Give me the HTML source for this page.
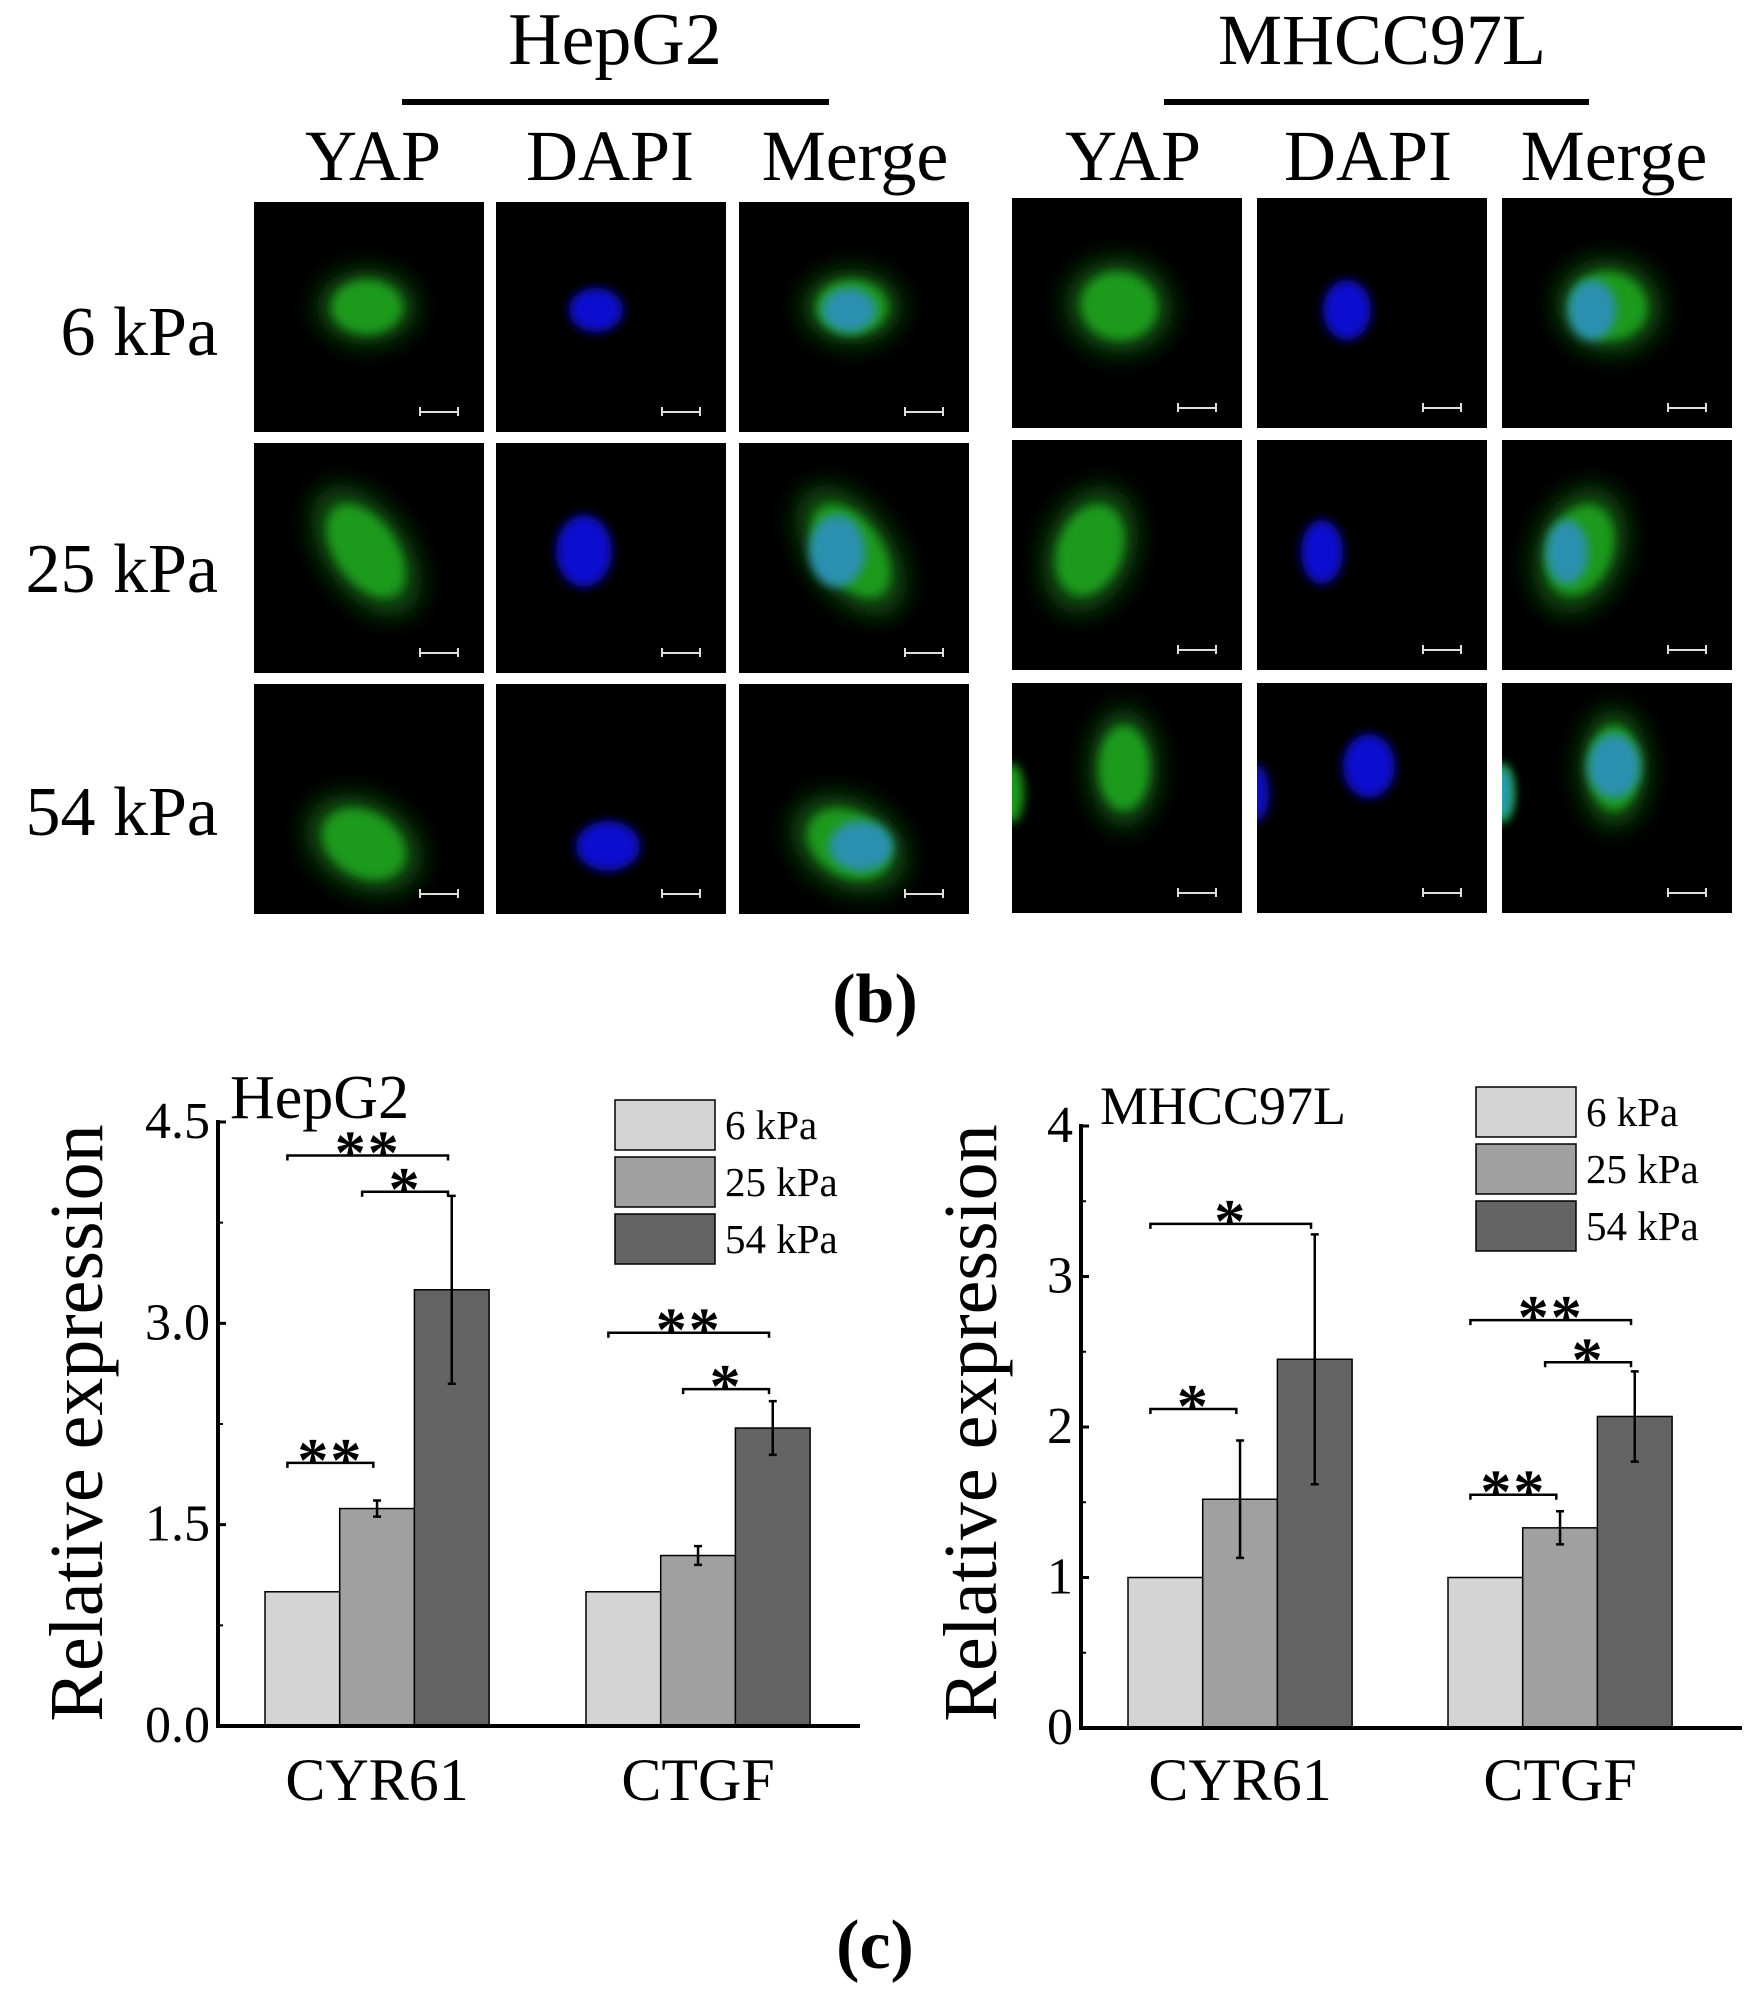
<!DOCTYPE html>
<html><head><meta charset="utf-8"><style>
html,body{margin:0;padding:0;background:#fff;}
svg{display:block;font-family:"Liberation Serif",serif;}
</style></head><body>
<svg id="fig" width="1761" height="1998" viewBox="0 0 1761 1998" xmlns="http://www.w3.org/2000/svg">
<defs>
<filter id="blur" x="-50%" y="-50%" width="200%" height="200%"><feGaussianBlur stdDeviation="5"/></filter>
<filter id="blur2" x="-50%" y="-50%" width="200%" height="200%"><feGaussianBlur stdDeviation="12"/></filter>
</defs>
<g id="micro"></g>
<g id="chart1"></g>
<g id="chart2"></g>
</svg>
<script>
// ---- chart data ----
const categories = ["CYR61", "CTGF"];
const seriesNames = ["6 kPa", "25 kPa", "54 kPa"];
const hepg2Values = [[1.0, 1.62, 3.25], [1.0, 1.27, 2.22]];
const hepg2Errors = [[0, 0.06, 0.70], [0, 0.07, 0.20]];
const hepg2Ticks = [0, 1.5, 3.0, 4.5];
const hepg2TickLabels = ["0.0", "1.5", "3.0", "4.5"];
const mhccValues = [[1.0, 1.52, 2.45], [1.0, 1.33, 2.07]];
const mhccErrors = [[0, 0.39, 0.83], [0, 0.11, 0.30]];
const mhccTicks = [0, 1, 2, 3, 4];
const mhccTickLabels = ["0", "1", "2", "3", "4"];
// significance brackets: [category, fromBar, toBar, yValue, label]
const hepg2Sig = [[0, 0, 2, 4.25, "**"], [0, 1, 2, 3.98, "*"], [0, 0, 1, 1.96, "**"], [1, 0, 2, 2.93, "**"], [1, 1, 2, 2.51, "*"]];
const mhccSig = [[0, 0, 2, 3.35, "*"], [0, 0, 1, 2.12, "*"], [1, 0, 2, 2.71, "**"], [1, 1, 2, 2.43, "*"], [1, 0, 1, 1.55, "**"]];

const NS = "http://www.w3.org/2000/svg";
const colors = ["#d4d4d4", "#a0a0a0", "#646464"];
function mk(tag, attrs, parent, text) {
  const e = document.createElementNS(NS, tag);
  for (const k in attrs) e.setAttribute(k, attrs[k]);
  if (text !== undefined) e.textContent = text;
  parent.appendChild(e);
  return e;
}

// ---- microscopy ----
const micro = document.getElementById('micro');
function txt(x, y, s, size, anchor, name) {
  const t = mk('text', {x: x, y: y, 'font-size': size, 'text-anchor': anchor}, micro, s);
  
  
  return t;
}
txt(615, 64, "HepG2", 74, "middle", "hepg2-title");
txt(1382, 64, "MHCC97L", 72, "middle", "mhcc97l-title");
let l1 = mk('rect', {x: 402, y: 99, width: 427, height: 6, fill: '#000'}, micro);


let l2 = mk('rect', {x: 1164, y: 99, width: 425, height: 6, fill: '#000'}, micro);


const heads = [[373, "YAP"], [610, "DAPI"], [855, "Merge"], [1133, "YAP"], [1368, "DAPI"], [1614, "Merge"]];
heads.forEach(h => txt(h[0], 180, h[1], 72, "middle", "column-header-" + h[1].toLowerCase()));
[["6 kPa", 355], ["25 kPa", 592], ["54 kPa", 835]].forEach(r => txt(218, r[1], r[0], 70, "end", "row-label-" + r[0].split(" ")[0] + "kpa"));
txt(875, 1022, "(b)", 70, "middle", "panel-label-b").setAttribute('font-weight', 'bold');

const colX = [[254, 496, 739], [1012, 1257, 1502]];
const rowY = [[202, 443, 684], [198, 440, 683]];
const cells = [
  [
    {c: [113, 105, 42, 32, 0], n: [110, 108, 27, 22]},
    {c: [112, 108, 62, 36, 55], n: [98, 108, 28, 36]},
    {c: [110, 160, 52, 38, 30], n: [122, 162, 32, 25]}
  ],
  [
    {c: [107, 108, 45, 40, 10], n: [90, 112, 24, 30]},
    {c: [78, 110, 38, 55, 20], n: [65, 112, 21, 32]},
    {c: [112, 85, 30, 50, 0], n: [112, 83, 26, 32], edge: true}
  ]
];
for (let g = 0; g < 2; g++) {
  for (let r = 0; r < 3; r++) {
    const d = cells[g][r];
    for (let c = 0; c < 3; c++) {
      const x0 = colX[g][c], y0 = rowY[g][r];
      const pg = mk('g', {}, micro);
      
      
      mk('rect', {x: x0, y: y0, width: 230, height: 230, fill: '#000'}, pg);
      const cp = mk('clipPath', {id: 'cp' + g + r + c}, pg);
      mk('rect', {x: x0, y: y0, width: 230, height: 230}, cp);
      const inner = mk('g', {'clip-path': 'url(#cp' + g + r + c + ')'}, pg);
      const cc = d.c, nn = d.n;
      if (c === 0 || c === 2) {
        mk('ellipse', {cx: x0 + cc[0], cy: y0 + cc[1], rx: cc[2] * 1.2, ry: cc[3] * 1.2, fill: '#0a4a0a', filter: 'url(#blur2)', transform: `rotate(${cc[4]} ${x0 + cc[0]} ${y0 + cc[1]})`}, inner);
        mk('ellipse', {cx: x0 + cc[0], cy: y0 + cc[1], rx: cc[2] * 0.85, ry: cc[3] * 0.85, fill: '#1c9a1c', filter: 'url(#blur)', transform: `rotate(${cc[4]} ${x0 + cc[0]} ${y0 + cc[1]})`}, inner);
        if (d.edge) mk('ellipse', {cx: x0, cy: y0 + 110, rx: 12, ry: 30, fill: '#1a9a1a', filter: 'url(#blur)'}, inner);
      }
      if (c === 1) {
        mk('ellipse', {cx: x0 + nn[0] - (g === 0 ? 10 : 0), cy: y0 + nn[1], rx: nn[2], ry: nn[3], fill: '#1010d0', filter: 'url(#blur)'}, inner);
        if (d.edge) mk('ellipse', {cx: x0, cy: y0 + 110, rx: 12, ry: 28, fill: '#1010c8', filter: 'url(#blur)'}, inner);
      }
      if (c === 2) {
        mk('ellipse', {cx: x0 + nn[0], cy: y0 + nn[1], rx: nn[2], ry: nn[3], fill: '#2a90b0', filter: 'url(#blur)'}, inner);
        if (d.edge) mk('ellipse', {cx: x0, cy: y0 + 110, rx: 10, ry: 26, fill: '#2a9ab8', filter: 'url(#blur)'}, inner);
      }
      mk('rect', {x: x0 + 165, y: y0 + 209, width: 40, height: 2, fill: '#ddd'}, inner);
      mk('rect', {x: x0 + 165, y: y0 + 205, width: 2, height: 9, fill: '#ddd'}, inner);
      mk('rect', {x: x0 + 203, y: y0 + 205, width: 2, height: 9, fill: '#ddd'}, inner);
    }
  }
}

// ---- bar charts ----
function drawChart(gid, opt) {
  const root = document.getElementById(gid);
  const yScale = v => opt.y0 - (v - 0) / opt.vmax * (opt.y0 - opt.yTop);
  const barX = (ci, si) => opt.catStart[ci] + si * opt.barW;
  const ya = mk('line', {x1: opt.ax, y1: opt.y0 + 2, x2: opt.ax, y2: opt.yTop - 2, stroke: '#000', 'stroke-width': 4}, root);
  
  
  opt.ticks.forEach((t, i) => {
    const y = yScale(t);
    mk('line', {x1: opt.ax, y1: y, x2: opt.ax + 8, y2: y, stroke: '#000', 'stroke-width': 3}, root);
    const tl = mk('text', {x: opt.ax - 8, y: y + 16, 'font-size': 52, 'text-anchor': 'end'}, root, opt.tickLabels[i]);
    
    
    if (i < opt.ticks.length - 1) {
      const ym = yScale((t + opt.ticks[i + 1]) / 2);
      mk('line', {x1: opt.ax, y1: ym, x2: opt.ax + 5, y2: ym, stroke: '#000', 'stroke-width': 2}, root);
    }
  });
  categories.forEach((cat, ci) => {
    opt.values[ci].forEach((v, si) => {
      const x = barX(ci, si);
      const b = mk('rect', {x: x, y: yScale(v), width: opt.barW, height: yScale(0) - yScale(v), fill: colors[si], stroke: '#000', 'stroke-width': 1.5}, root);
      
      
      const e = opt.errors[ci][si];
      if (e > 0) {
        const cx = x + opt.barW / 2;
        const eb = mk('path', {d: `M${cx} ${yScale(v + e)}V${yScale(v - e)}M${cx - 4} ${yScale(v + e)}H${cx + 4}M${cx - 4} ${yScale(v - e)}H${cx + 4}`, stroke: '#000', 'stroke-width': 2.5, fill: 'none'}, root);
        
        
      }
    });
    const xl = mk('text', {x: opt.catStart[ci] + opt.barW * 1.5, y: 1800, 'font-size': 60, 'text-anchor': 'middle'}, root, cat);
    
    
  });
  const xa = mk('line', {x1: opt.ax - 2, y1: opt.y0, x2: opt.axEnd, y2: opt.y0, stroke: '#000', 'stroke-width': 4}, root);
  
  
  opt.sig.forEach(s => {
    const x1 = barX(s[0], s[1]) + opt.barW * 0.3, x2 = barX(s[0], s[2]) + opt.barW * 0.45;
    const y = yScale(s[3]);
    const br = mk('path', {d: `M${x1} ${y + 5}V${y}H${x2}V${y + 5}`, stroke: '#000', 'stroke-width': 2.5, fill: 'none'}, root);
    
    
    const st = mk('text', {x: (x1 + x2) / 2, y: y + 18, 'font-size': 62, 'font-weight': 'bold', 'text-anchor': 'middle', 'letter-spacing': 2}, root, s[4]);
    
    
  });
  seriesNames.forEach((n, i) => {
    const y = opt.legY + i * opt.legStep;
    const lb = mk('rect', {x: opt.legX, y: y, width: 100, height: opt.legStep - 7, fill: colors[i], stroke: '#000', 'stroke-width': 1.5}, root);
    
    
    const lt = mk('text', {x: opt.legX + 110, y: y + 39, 'font-size': 41}, root, n);
    
    
  });
  const tt = mk('text', {x: opt.titleX, y: opt.titleY, 'font-size': opt.titleSize}, root, opt.title);
  
  
  const yt = mk('text', {x: 0, y: 0, 'font-size': 76, 'text-anchor': 'middle', transform: `translate(${opt.ytX} 1423) rotate(-90)`}, root, 'Relative expression');
  
  
}
drawChart('chart1', {y0: 1726, yTop: 1122, vmax: 4.5, ax: 218, axEnd: 860, catStart: [265, 586], barW: 74.7,
  values: hepg2Values, errors: hepg2Errors, ticks: hepg2Ticks, tickLabels: hepg2TickLabels, sig: hepg2Sig,
  legX: 615, legY: 1100, legStep: 57, title: 'HepG2', titleSize: 62, titleX: 230, titleY: 1118, ytX: 102});
drawChart('chart2', {y0: 1728, yTop: 1126, vmax: 4, ax: 1081, axEnd: 1742, catStart: [1128, 1448], barW: 74.7,
  values: mhccValues, errors: mhccErrors, ticks: mhccTicks, tickLabels: mhccTickLabels, sig: mhccSig,
  legX: 1476, legY: 1087, legStep: 57, title: 'MHCC97L', titleSize: 54, titleX: 1100, titleY: 1124, ytX: 996});
const cl = mk('text', {x: 875, y: 1968, 'font-size': 70, 'text-anchor': 'middle', 'font-weight': 'bold'}, document.getElementById('fig'), '(c)');


</script>
</body></html>
